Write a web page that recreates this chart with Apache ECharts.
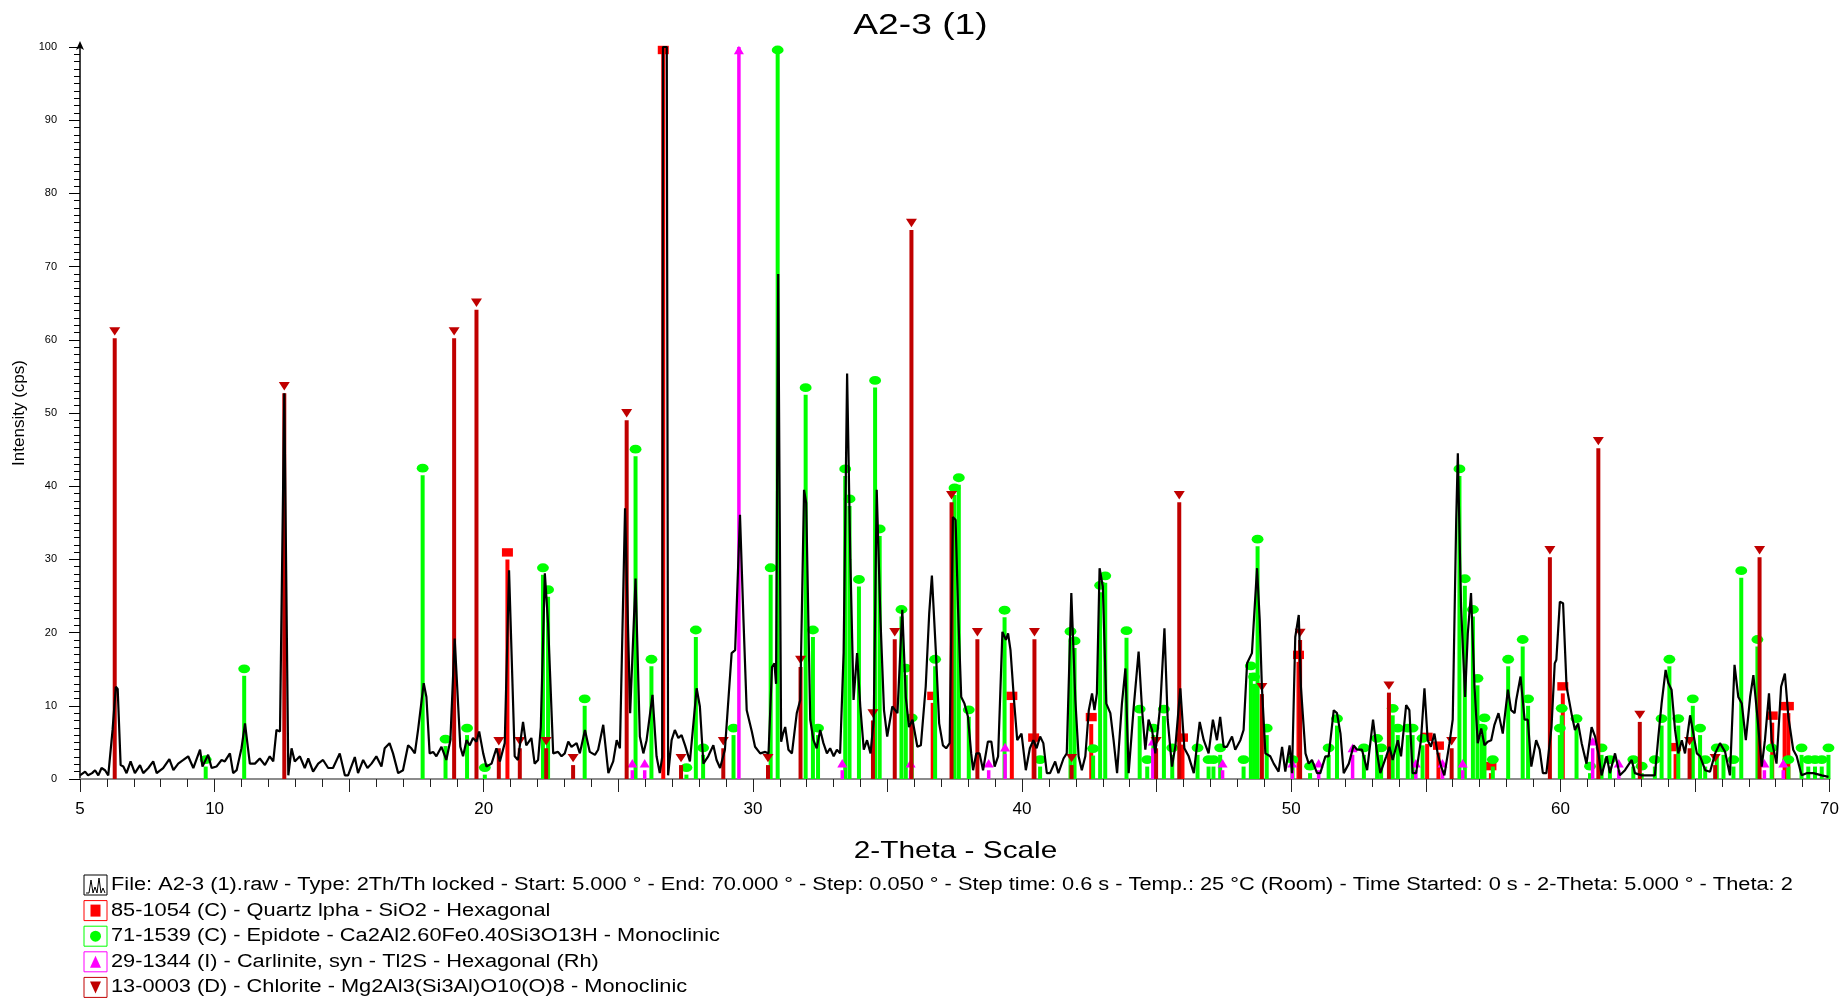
<!DOCTYPE html>
<html>
<head>
<meta charset="utf-8">
<title>A2-3 (1)</title>
<script src="https://cdn.jsdelivr.net/npm/echarts@6/dist/echarts.min.js"></script>
<style>
  html, body { margin: 0; padding: 0; background: #ffffff; }
  #chart { width: 1842px; height: 998px; }
</style>
</head>
<body>
<div id="chart"></div>
<script>
// Measured scan: [2-theta (deg), intensity (cps)]
const pattern = [
  [5.0,0.5],[5.19,1.0],[5.3,0.5],[5.45,0.8],[5.56,1.2],[5.68,0.5],[5.8,1.5],[5.93,1.2],[6.05,0.5],[6.21,6.7],
  [6.33,12.6],[6.4,12.3],[6.51,1.9],[6.61,1.7],[6.73,0.8],[6.88,2.4],[7.04,0.8],[7.23,1.9],[7.35,0.8],[7.54,1.5],
  [7.72,2.4],[7.85,0.8],[8.09,1.5],[8.32,2.7],[8.47,1.2],[8.65,2.1],[8.84,2.6],[9.02,3.1],[9.21,1.5],[9.46,4.0],
  [9.55,1.7],[9.76,3.3],[9.89,1.5],[10.07,1.7],[10.26,2.6],[10.38,2.4],[10.57,3.5],[10.69,0.8],[10.82,1.2],[11.0,4.2],
  [11.13,7.6],[11.31,2.1],[11.5,2.1],[11.68,2.8],[11.87,1.9],[12.05,3.1],[12.18,2.4],[12.3,6.7],[12.43,6.5],[12.59,52.7],
  [12.74,0.5],[12.86,4.2],[12.98,2.4],[13.17,3.1],[13.35,1.5],[13.48,2.8],[13.66,1.0],[13.85,2.1],[14.03,2.6],[14.22,1.5],
  [14.4,1.5],[14.65,3.5],[14.84,0.5],[14.96,0.5],[15.21,3.0],[15.33,0.8],[15.52,2.6],[15.68,1.5],[15.83,2.1],[16.01,3.1],
  [16.2,1.7],[16.32,4.2],[16.5,4.9],[16.63,3.5],[16.82,0.8],[17.0,1.2],[17.19,4.6],[17.31,4.2],[17.44,3.5],[17.56,6.7],
  [17.77,13.1],[17.87,11.2],[17.99,3.5],[18.12,3.7],[18.24,3.1],[18.43,4.4],[18.61,2.6],[18.76,5.3],[18.92,19.2],[18.98,19.0],
  [19.13,4.4],[19.23,3.1],[19.36,5.3],[19.48,4.6],[19.6,5.6],[19.73,5.1],[19.83,6.5],[19.98,3.5],[20.1,1.7],[20.29,2.1],
  [20.47,4.2],[20.6,2.4],[20.78,4.9],[20.94,28.5],[21.15,3.1],[21.27,2.6],[21.46,7.8],[21.58,4.6],[21.77,5.6],[21.89,2.1],
  [22.02,2.6],[22.12,7.1],[22.27,28.1],[22.39,21.3],[22.58,3.5],[22.76,3.7],[22.89,3.1],[23.01,3.5],[23.14,5.1],[23.26,4.4],
  [23.45,4.9],[23.57,3.5],[23.76,6.7],[23.94,3.7],[24.13,3.3],[24.25,4.0],[24.44,7.4],[24.63,0.8],[24.81,2.4],[24.94,5.3],
  [25.06,4.2],[25.25,37.0],[25.44,9.0],[25.64,27.4],[25.8,5.8],[25.93,3.5],[26.05,5.3],[26.27,11.5],[26.42,3.1],[26.54,0.8],
  [26.63,3.0],[26.66,100],[26.8,100],[26.85,0.5],[26.98,5.3],[27.1,6.7],[27.23,5.6],[27.35,6.0],[27.48,4.6],[27.66,2.4],
  [27.91,12.4],[28.03,9.9],[28.16,2.1],[28.34,3.1],[28.53,4.6],[28.65,2.6],[28.78,1.5],[28.96,4.0],[29.21,17.2],[29.34,17.6],
  [29.52,36.1],[29.65,21.7],[29.77,9.4],[29.96,6.5],[30.08,4.4],[30.27,3.5],[30.46,3.7],[30.58,3.5],[30.71,15.3],[30.8,15.8],
  [30.86,13.0],[30.94,69.0],[31.05,5.1],[31.12,6.2],[31.2,7.1],[31.32,4.0],[31.45,3.5],[31.63,9.0],[31.76,10.8],[31.9,39.5],
  [31.98,37.7],[32.13,8.1],[32.25,5.3],[32.37,4.2],[32.5,6.7],[32.62,4.9],[32.75,3.5],[32.87,4.2],[33.0,3.1],[33.12,4.0],
  [33.24,3.5],[33.37,17.2],[33.5,55.4],[33.62,30.0],[33.74,10.8],[33.87,17.2],[33.99,9.9],[34.12,4.0],[34.24,5.3],[34.37,3.5],
  [34.49,8.1],[34.6,39.5],[34.74,21.7],[34.87,9.4],[34.99,5.8],[35.18,9.9],[35.37,9.0],[35.55,23.1],[35.68,11.2],[35.8,7.1],
  [35.93,8.1],[36.11,4.4],[36.24,4.6],[36.42,12.6],[36.55,22.6],[36.65,27.8],[36.8,17.2],[36.92,7.6],[37.06,4.6],[37.18,4.2],
  [37.31,4.9],[37.43,35.8],[37.53,35.4],[37.62,23.5],[37.74,11.2],[37.86,10.3],[37.99,8.5],[38.11,3.5],[38.18,1.2],[38.3,3.5],
  [38.42,3.5],[38.55,1.2],[38.73,5.1],[38.86,5.1],[38.98,1.7],[39.11,3.1],[39.27,20.1],[39.4,19.0],[39.48,19.9],[39.57,17.6],
  [39.7,10.8],[39.82,5.3],[39.98,6.2],[40.14,1.2],[40.29,4.2],[40.42,5.3],[40.54,4.2],[40.67,5.8],[40.79,4.9],[40.92,0.8],
  [41.04,0.8],[41.23,2.4],[41.35,0.8],[41.54,2.8],[41.66,3.5],[41.83,25.4],[41.98,10.8],[42.1,3.1],[42.22,1.2],[42.35,3.1],
  [42.48,9.4],[42.6,11.7],[42.69,9.4],[42.78,11.7],[42.88,28.8],[43.0,26.3],[43.13,10.3],[43.28,9.0],[43.4,5.3],[43.53,0.8],
  [43.71,10.3],[43.84,15.1],[43.96,0.8],[44.15,9.9],[44.33,17.4],[44.46,9.4],[44.58,4.0],[44.7,8.1],[44.83,6.7],[44.95,3.5],
  [45.14,10.3],[45.29,20.6],[45.41,8.1],[45.57,1.7],[45.7,4.6],[45.88,12.4],[46.03,4.2],[46.19,3.1],[46.38,0.8],[46.6,7.8],
  [46.75,5.3],[46.93,3.5],[47.09,8.1],[47.24,5.3],[47.36,8.5],[47.49,4.4],[47.61,4.4],[47.8,5.8],[47.92,4.0],[48.11,5.3],
  [48.23,6.7],[48.36,15.8],[48.54,17.2],[48.73,28.8],[48.83,21.7],[48.91,12.6],[49.04,3.5],[49.22,3.1],[49.35,2.1],[49.53,1.0],
  [49.66,4.4],[49.78,1.0],[49.94,4.6],[50.03,0.8],[50.15,19.4],[50.28,22.4],[50.36,12.6],[50.53,3.5],[50.65,2.1],[50.77,2.6],
  [50.96,0.8],[51.08,0.8],[51.27,3.1],[51.39,3.1],[51.58,9.4],[51.7,9.0],[51.83,6.2],[51.95,0.8],[52.14,2.1],[52.32,4.6],
  [52.45,4.0],[52.63,4.0],[52.82,1.2],[53.04,8.1],[53.19,3.5],[53.31,0.8],[53.53,3.1],[53.65,4.4],[53.77,2.6],[53.96,5.3],
  [54.08,3.1],[54.27,10.1],[54.39,9.4],[54.51,0.8],[54.64,0.8],[54.82,5.3],[54.95,12.4],[55.07,5.3],[55.19,4.4],[55.32,6.2],
  [55.44,3.5],[55.57,1.7],[55.69,0.5],[55.88,4.9],[56.0,8.1],[56.13,35.4],[56.19,44.5],[56.31,23.5],[56.46,11.2],[56.56,19.9],
  [56.68,25.4],[56.81,12.6],[56.93,4.9],[57.06,6.9],[57.18,4.6],[57.3,5.1],[57.43,5.3],[57.55,7.4],[57.7,9.0],[57.86,6.2],
  [58.05,12.2],[58.17,9.4],[58.3,9.0],[58.36,10.8],[58.52,14.0],[58.67,8.1],[58.79,8.1],[58.92,1.7],[59.1,5.3],[59.23,4.0],
  [59.35,0.8],[59.48,0.8],[59.67,7.1],[59.79,15.8],[59.85,16.3],[59.98,24.2],[60.1,24.0],[60.23,12.6],[60.41,9.0],[60.54,6.7],
  [60.66,7.6],[60.79,4.9],[60.97,2.1],[61.16,7.1],[61.29,5.8],[61.41,3.5],[61.53,0.5],[61.72,3.1],[61.84,0.8],[62.03,3.5],
  [62.21,0.5],[62.4,1.2],[62.65,2.6],[62.77,0.8],[63.02,0.5],[63.51,0.5],[63.64,5.8],[63.76,10.3],[63.91,14.9],[64.01,13.1],
  [64.13,12.2],[64.26,6.7],[64.38,3.5],[64.51,5.3],[64.63,3.5],[64.82,8.7],[64.94,6.2],[65.07,3.5],[65.19,3.1],[65.38,1.2],
  [65.56,1.0],[65.75,3.5],[65.93,4.9],[66.12,3.7],[66.3,0.5],[66.47,15.6],[66.61,11.2],[66.74,10.3],[66.89,5.3],[67.05,11.2],
  [67.17,14.2],[67.33,8.1],[67.48,1.7],[67.6,5.3],[67.75,11.7],[67.85,5.3],[68.03,2.1],[68.2,12.6],[68.34,14.4],[68.47,8.5],
  [68.65,4.0],[68.78,3.1],[68.96,0.5],[69.15,0.8],[69.4,0.8],[69.71,0.5],[69.96,0.3]
];

// Reference card lines: [2-theta (deg), relative intensity]
const quartzLines = [
  [20.88,30],[26.67,100],[36.68,10.4],[39.62,10.4],[40.43,4.7],[42.57,7.5],[45.96,4.7],[50.27,16],
  [55.05,4.8],[55.47,3.6],[57.42,0.8],[60.09,11.7],[64.28,3.4],[67.87,7.7],[68.33,9],[68.47,9]
];
const epidoteLines = [
  [9.67,1.7],[11.1,14.1],[17.73,41.5],[18.58,4.5],[19.38,6.0],[20.04,0.6],[22.2,27.9],[22.39,24.9],[23.75,10.0],[25.64,44.1],
  [26.23,15.4],[27.53,0.6],[27.88,19.4],[28.15,3.3],[29.28,6.0],[30.66,27.9],[30.92,100],[31.96,52.5],[32.23,19.4],[32.42,6.0],
  [33.43,41.4],[33.59,37.3],[33.94,26.3],[34.54,53.5],[34.71,33.2],[35.52,22.2],[35.68,14.2],[35.9,7.4],[36.77,15.4],[37.49,38.8],
  [37.65,40.2],[38.02,8.5],[39.35,22.1],[40.67,1.7],[41.8,19.2],[41.95,17.9],[42.64,3.2],[42.9,25.5],[43.09,26.8],[43.88,19.3],
  [44.37,8.6],[44.65,1.7],[44.88,6.0],[45.27,8.6],[45.58,3.3],[46.52,3.3],[46.93,1.7],[47.11,1.7],[47.36,3.3],[48.23,1.7],
  [48.5,14.5],[48.62,13.0],[48.75,31.8],[49.09,6.0],[50.05,1.7],[50.7,0.8],[51.39,3.3],[51.7,7.3],[52.7,3.3],[53.19,4.6],
  [53.34,3.3],[53.77,8.7],[53.96,6.0],[54.33,6.0],[54.51,6.0],[54.88,4.6],[56.25,41.4],[56.45,26.4],[56.75,22.2],[56.92,12.8],
  [57.08,6.0],[57.18,7.4],[57.49,1.7],[58.06,15.4],[58.6,18.1],[58.8,10.0],[59.98,6.0],[60.05,8.7],[60.6,7.3],[61.1,0.8],
  [61.53,3.3],[61.84,1.7],[62.71,1.7],[63.02,0.8],[63.51,1.7],[63.76,7.3],[64.05,15.4],[64.38,7.3],[64.92,10.0],[65.19,6.0],
  [65.38,1.7],[65.81,3.3],[66.06,3.3],[66.43,1.7],[66.72,27.5],[67.32,18.1],[67.85,3.3],[68.47,1.7],[68.96,3.3],[69.21,1.7],
  [69.46,1.7],[69.71,1.7],[69.96,3.3]
];
const carliniteLines = [
  [25.52,1.2],[25.98,1.2],[29.48,100],[33.32,1.2],[35.86,1.2],[38.76,1.2],[39.37,3.4],[44.86,4.2],[47.45,1.2],[50.04,1.2],
  [51.02,1.2],[52.28,3.3],[54.63,1.2],[55.62,1.2],[56.37,1.2],[61.2,4.2],[62.17,1.2],[67.58,1.2],[68.28,1.2]
];
const chloriteLines = [
  [6.29,60.2],[12.59,52.7],[18.9,60.2],[19.73,64.1],[20.56,4.2],[21.34,4.2],[22.32,4.2],[23.32,1.9],[25.31,49],[27.33,1.9],
  [28.9,4.2],[30.56,1.9],[31.77,15.3],[34.46,8],[35.27,19.1],[35.89,75],[37.38,37.8],[38.34,19.1],[40.46,19.1],[41.84,1.9],
  [44.98,4.2],[45.84,37.8],[48.91,11.6],[50.33,19],[53.63,11.8],[55.96,4.2],[59.61,30.3],[61.41,45.2],[62.95,7.8],[64.8,4.2],
  [65.75,1.9],[67.4,30.3]
];

const chartTitle = 'A2-3 (1)';
const xAxisTitle = '2-Theta - Scale';
const yAxisTitle = 'Intensity (cps)';
const xTickLabels = [5, 10, 20, 30, 40, 50, 60, 70];
const legendLabels = [
  'File: A2-3 (1).raw - Type: 2Th/Th locked - Start: 5.000 ° - End: 70.000 ° - Step: 0.050 ° - Step time: 0.6 s - Temp.: 25 °C (Room) - Time Started: 0 s - 2-Theta: 5.000 ° - Theta: 2',
  '85-1054 (C) - Quartz lpha - SiO2 - Hexagonal',
  '71-1539 (C) - Epidote - Ca2Al2.60Fe0.40Si3O13H - Monoclinic',
  '29-1344 (I) - Carlinite, syn - Tl2S - Hexagonal (Rh)',
  '13-0003 (D) - Chlorite - Mg2Al3(Si3Al)O10(O)8 - Monoclinic'
];

const FONT = '"Liberation Sans", Arial, sans-serif';
const COLORS = { quartz: '#ff0000', epidote: '#00ff00', carlinite: '#ff00ff', chlorite: '#c00000' };
// the report's lettering is set wide; widen text horizontally to suit
const TEXT_WIDEN = 1.21;

// marker glyph drawn just above each stick
function markerShape(kind, x, y, color) {
  if (kind === 'square') {
    return { type: 'rect', shape: { x: x - 5.5, y: y - 4.2, width: 11, height: 8.4 }, style: { fill: color } };
  }
  if (kind === 'circle') {
    return { type: 'circle', x: x, y: y, scaleX: 1.35, scaleY: 1, shape: { cx: 0, cy: 0, r: 4.4 }, style: { fill: color } };
  }
  if (kind === 'up') {
    return { type: 'polygon', shape: { points: [[x - 5, y + 4.3], [x + 5, y + 4.3], [x, y - 4.3]] }, style: { fill: color } };
  }
  return { type: 'polygon', shape: { points: [[x - 5.5, y - 4.2], [x + 5.5, y - 4.2], [x, y + 4.2]] }, style: { fill: color } };
}

function stickSeries(name, lines, color, kind, width) {
  return {
    type: 'custom',
    name: name,
    data: lines,
    encode: { x: 0, y: 1 },
    z: 2,
    silent: true,
    renderItem: function (params, api) {
      const t = api.value(0), v = api.value(1);
      const base = api.coord([t, 0]);
      const top = api.coord([t, v]);
      const cs = params.coordSys;
      const my = Math.max(top[1] - 7, cs.y + 3);
      return {
        type: 'group',
        children: [
          { type: 'rect', shape: { x: base[0] - width / 2, y: top[1], width: width, height: base[1] - top[1] }, style: { fill: color } },
          markerShape(kind, base[0], my, color)
        ]
      };
    }
  };
}

// title, x-axis caption and legend block
const graphics = [
  { type: 'text', x: 920.5, y: 25.5, scaleX: 1.24, style: { text: chartTitle, font: '30px ' + FONT, fill: '#000', textAlign: 'center', textVerticalAlign: 'middle' } },
  { type: 'text', x: 955.5, y: 851, scaleX: 1.24, style: { text: xAxisTitle, font: '24px ' + FONT, fill: '#000', textAlign: 'center', textVerticalAlign: 'middle' } }
];
const legendTop = 885, legendStep = 25.6;
const legendIcons = [
  { stroke: '#000000', kind: 'trace' },
  { stroke: COLORS.quartz, kind: 'square' },
  { stroke: COLORS.epidote, kind: 'circle' },
  { stroke: COLORS.carlinite, kind: 'up' },
  { stroke: COLORS.chlorite, kind: 'down' }
];
legendLabels.forEach(function (label, i) {
  const cy = legendTop + i * legendStep;
  const icon = legendIcons[i];
  graphics.push({ type: 'rect', shape: { x: 84, y: cy - 10, width: 23, height: 20 }, style: { fill: 'none', stroke: icon.stroke, lineWidth: 1 } });
  if (icon.kind === 'trace') {
    graphics.push({ type: 'polyline', shape: { points: [[86, cy + 8], [89, cy + 8], [91, cy - 5], [93, cy + 8], [95, cy + 2], [97, cy + 8], [99, cy - 7], [101, cy + 8], [103, cy + 3], [105, cy + 8]] }, style: { fill: 'none', stroke: '#000', lineWidth: 1 } });
  } else if (icon.kind === 'square') {
    graphics.push({ type: 'rect', shape: { x: 90.5, y: cy - 6, width: 10, height: 12 }, style: { fill: COLORS.quartz } });
  } else if (icon.kind === 'circle') {
    graphics.push({ type: 'circle', shape: { cx: 95.5, cy: cy, r: 5.5 }, style: { fill: COLORS.epidote } });
  } else if (icon.kind === 'up') {
    graphics.push({ type: 'polygon', shape: { points: [[90, cy + 6], [101, cy + 6], [95.5, cy - 6]] }, style: { fill: COLORS.carlinite } });
  } else {
    graphics.push({ type: 'polygon', shape: { points: [[90, cy - 6], [101, cy - 6], [95.5, cy + 6]] }, style: { fill: COLORS.chlorite } });
  }
  graphics.push({ type: 'text', x: 111, y: cy, scaleX: TEXT_WIDEN, style: { text: label, font: '18px ' + FONT, fill: '#000', textVerticalAlign: 'middle', textAlign: 'left' } });
});

const chart = echarts.init(document.getElementById('chart'), null, { renderer: 'canvas' });
chart.setOption({
  animation: false,
  backgroundColor: '#ffffff',
  grid: { left: 80, right: 11.5, top: 47, bottom: 219, containLabel: false },
  xAxis: {
    type: 'value', min: 5, max: 70, interval: 5,
    axisLine: { show: true, onZero: false, lineStyle: { color: '#8c8c8c', width: 2 } },
    axisTick: { show: true, length: 13, lineStyle: { color: '#222', width: 1 } },
    minorTick: { show: true, splitNumber: 5, length: 8, lineStyle: { color: '#222', width: 1 } },
    splitLine: { show: false },
    axisLabel: {
      fontFamily: FONT, fontSize: 17, color: '#000', margin: 22, showMaxLabel: true, showMinLabel: true,
      formatter: function (v) { return xTickLabels.indexOf(v) >= 0 ? String(v) : ''; }
    }
  },
  yAxis: {
    type: 'value', min: 0, max: 100, interval: 10,
    name: yAxisTitle, nameLocation: 'middle', nameGap: 50,
    nameTextStyle: { fontFamily: FONT, fontSize: 17, color: '#000' },
    axisLine: { show: true, lineStyle: { color: '#000', width: 1.5 }, symbol: ['none', 'arrow'], symbolSize: [6, 9], symbolOffset: [0, 6] },
    axisTick: { show: true, length: 11, lineStyle: { color: '#000', width: 1 } },
    minorTick: { show: true, splitNumber: 10, length: 6, lineStyle: { color: '#000', width: 1 } },
    splitLine: { show: false },
    axisLabel: { fontFamily: FONT, fontSize: 11, color: '#000', margin: 23 }
  },
  graphic: graphics,
  series: [
    stickSeries('Quartz', quartzLines, COLORS.quartz, 'square', 4),
    stickSeries('Epidote', epidoteLines, COLORS.epidote, 'circle', 4),
    stickSeries('Carlinite', carliniteLines, COLORS.carlinite, 'up', 3.5),
    stickSeries('Chlorite', chloriteLines, COLORS.chlorite, 'down', 4),
    {
      type: 'line', name: 'A2-3 (1)', data: pattern, showSymbol: false, z: 5, silent: true,
      lineStyle: { color: '#000000', width: 2.2 }, clip: true
    }
  ]
});
</script>
</body>
</html>
